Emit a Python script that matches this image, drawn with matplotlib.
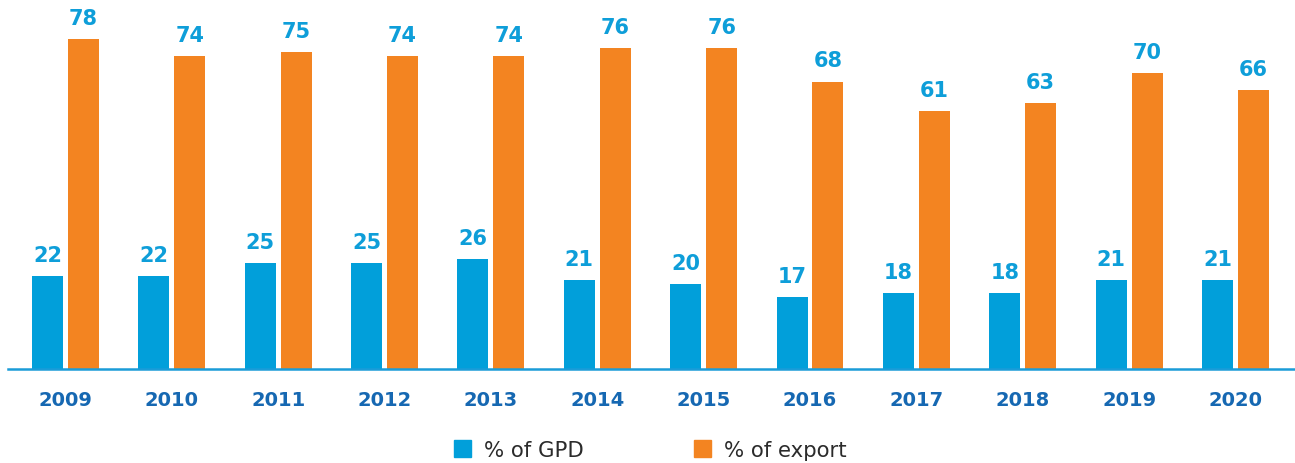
import matplotlib.pyplot as plt
from matplotlib.patches import Patch
import numpy as np

years = ["2009", "2010", "2011", "2012", "2013", "2014",
         "2015", "2016", "2017", "2018", "2019", "2020"]
gdp_share = [22, 22, 25, 25, 26, 21, 20, 17, 18, 18, 21, 21]
export_share = [78, 74, 75, 74, 74, 76, 76, 68, 61, 63, 70, 66]

blue = "#019fda"
orange = "#f38421"
label_blue = "#0e9ed9"
year_blue = "#1668b2"

plt.rcParams['font.family'] = ['DejaVu Sans']

fig = plt.figure(figsize=(12.95, 4.64), dpi=100)
# axis line runs from x=8 px to the right edge
ax = fig.add_axes([8 / 1295, 0.2026, 1287 / 1295, 0.797])

x = np.arange(len(years))
w = 0.2915
off = 0.169
b1 = ax.bar(x - off, gdp_share, w, color=blue)
b2 = ax.bar(x + off, export_share, w, color=orange)

for bars in (b1, b2):
    for rect in bars:
        ax.annotate(f"{rect.get_height():.0f}",
                    (rect.get_x() + rect.get_width() / 2, rect.get_height()),
                    xytext=(0, 8), textcoords="offset points",
                    ha="center", va="bottom", fontsize=15, fontweight="bold",
                    color=label_blue)

pitch = 106.36
ax.set_xlim((8 - 65.5) / pitch, (1295 - 65.5) / pitch)
ax.set_ylim(0, 370 / 4.23)
ax.set_xticks(x)
ax.set_xticklabels(years, fontsize=14, fontweight="bold", color=year_blue)
ax.tick_params(axis="x", length=0, pad=15)
ax.set_yticks([])
for side in ("top", "left", "right"):
    ax.spines[side].set_visible(False)
ax.spines["bottom"].set_color("#1a9cd8")
ax.spines["bottom"].set_linewidth(1.8)

handles = [Patch(color=blue, label="% of GPD"), Patch(color=orange, label="% of export")]
fig.legend(handles=handles, loc="center", bbox_to_anchor=(650 / 1295, 1 - 451 / 464),
           ncol=2, frameon=False, fontsize=15.3, handlelength=0.8, handleheight=0.8,
           handletextpad=0.6, columnspacing=5.2, labelcolor="#2b2b2b")

fig.savefig("out.png", dpi=100)
